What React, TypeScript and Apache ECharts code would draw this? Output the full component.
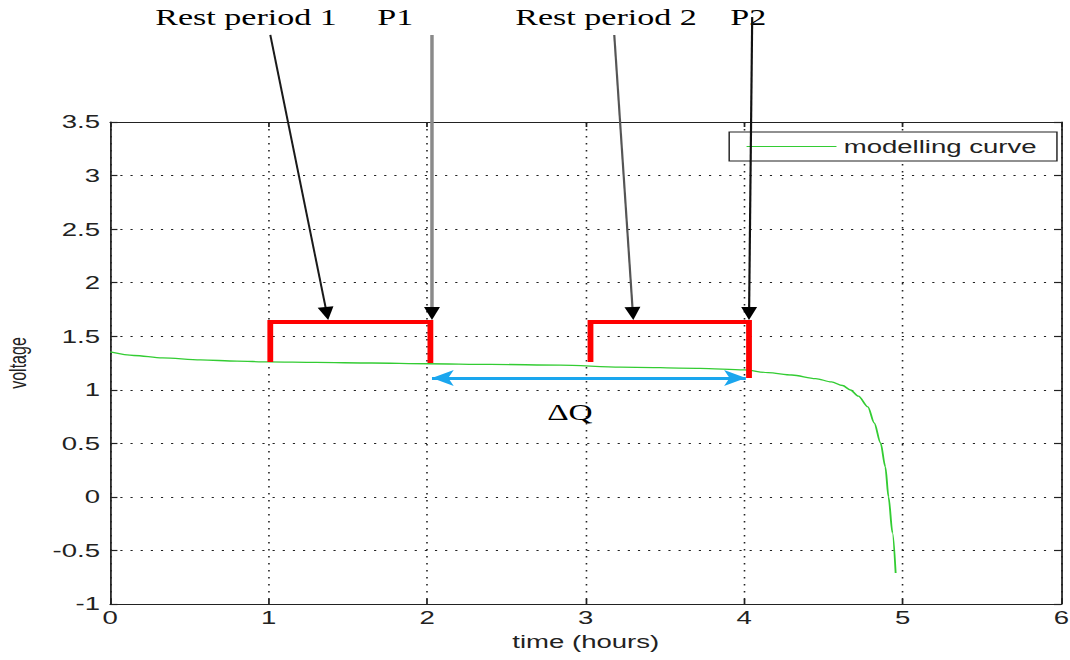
import React, { useEffect, useRef } from "react";
import * as echarts from "echarts";

// ---- data (time in hours, voltage in V) ----
const timeH = [0, 0.15, 0.33, 0.57, 0.8, 1.0, 1.3, 1.65, 2.0, 2.4, 2.84, 3.22, 3.72, 4.0, 4.15, 4.3, 4.45, 4.55, 4.62, 4.67, 4.72, 4.78, 4.82, 4.86, 4.89, 4.91, 4.935, 4.955];
const voltage = [1.353, 1.32, 1.297, 1.279, 1.268, 1.26, 1.255, 1.25, 1.243, 1.237, 1.23, 1.212, 1.2, 1.185, 1.16, 1.138, 1.105, 1.073, 1.04, 0.998, 0.94, 0.84, 0.69, 0.503, 0.28, 0.0, -0.336, -0.71];

const rest1T = [1.01, 1.01, 2.02, 2.02];
const rest1V = [1.26, 1.633, 1.633, 1.25];
const rest2T = [3.03, 3.03, 4.03, 4.03];
const rest2V = [1.26, 1.633, 1.633, 1.11];

const deltaQT = [2.03, 4.01];
const deltaQV = 1.11;

const xTicks = { min: 0, max: 6, interval: 1 };
const yTicks = { min: -1, max: 3.5, interval: 0.5 };

// annotations (data coordinates)
const labelTexts = ["Rest period 1", "P1", "Rest period 2", "P2"];
const labelT = [0.284, 1.685, 2.555, 3.912];
const labelV = 4.48;
const arrowStartT = [1.01, 2.03, 3.18, 4.05];
const arrowStartV = [4.313, 4.313, 4.313, 4.48];
const arrowTipT = [1.375, 2.03, 3.3, 4.03];
const arrowTipV = [1.652, 1.652, 1.652, 1.652];
const arrowColors = ["#1a1a1a", "#8a8a8a", "#555555", "#111111"];
const arrowWidths = [1.4, 2.4, 1.5, 1.5];
const deltaQLabel = { text: "ΔQ", t: 2.9, v: 0.79 };

const W0 = 738;
const H0 = 660;
const SX = 1070 / W0;

const zip = (a: number[], b: number[]) => a.map((x, i) => [x, b[i]]);

export default function App() {
  const ref = useRef<HTMLDivElement>(null);
  useEffect(() => {
    if (!ref.current) return;
    const chart = echarts.init(ref.current, undefined, { renderer: "svg" });
    const axisText = { fontFamily: "Liberation Sans", fontSize: 19, color: "#222" };
    const gridLine = { show: true, lineStyle: { color: "#222", type: [1.5, 5.5] as any, width: 1.1 } };
    const axisLine = { show: true, onZero: false, lineStyle: { color: "#222", width: 1.2 } };
    const tick = { show: true, inside: true, length: 5, lineStyle: { color: "#222", width: 1.2 } };
    const green = "#33cc33";
    chart.setOption({
      animation: false,
      backgroundColor: "#ffffff",
      grid: { left: 76, right: 6, top: 122, bottom: 56, containLabel: false, outerBoundsMode: "none" },
      legend: {
        data: [
          {
            name: "modelling curve",
            icon: "path://M0,0 L0.01,0 L0.01,0.01 Z M0,14 L0.01,14 L0.01,13.99 Z M0,6.4 L62,6.4 L62,7.6 L0,7.6 Z",
            itemStyle: { color: green },
          },
        ],
        right: 9,
        top: 132,
        backgroundColor: "#ffffff",
        borderColor: "#222",
        borderWidth: 1,
        borderRadius: 0,
        padding: [5, 14, 5, 12],
        itemWidth: 62,
        itemHeight: 14,
        textStyle: axisText,
        z: 20,
      },
      xAxis: [
        {
          type: "value", ...xTicks, position: "bottom",
          name: "time (hours)", nameLocation: "middle", nameGap: 22, nameTextStyle: axisText,
          axisLine, axisTick: tick,
          axisLabel: { ...axisText, margin: 4 },
          splitLine: gridLine,
        },
        {
          type: "value", ...xTicks, position: "top",
          axisLine, axisTick: tick, axisLabel: { show: false }, splitLine: { show: false },
        },
      ],
      yAxis: [
        {
          type: "value", ...yTicks, position: "left",
          name: "voltage", nameLocation: "middle", nameGap: 56, nameRotate: 90,
          nameTextStyle: { fontFamily: "Liberation Sans", fontSize: 16, color: "#222" },
          axisLine, axisTick: tick,
          axisLabel: { ...axisText, margin: 7 },
          splitLine: gridLine,
        },
        {
          type: "value", ...yTicks, position: "right",
          axisLine, axisTick: tick, axisLabel: { show: false }, splitLine: { show: false },
        },
      ],
      series: [
        {
          name: "modelling curve", type: "line", data: zip(timeH, voltage),
          symbol: "none", smooth: 0.3, smoothMonotone: "x",
          lineStyle: { color: green, width: 1.3 }, itemStyle: { color: green }, z: 3,
        },
        {
          name: "rest1", type: "line", data: zip(rest1T, rest1V), symbol: "none",
          lineStyle: { color: "#ff0000", width: 4, join: "miter" }, z: 4,
        },
        {
          name: "rest2", type: "line", data: zip(rest2T, rest2V), symbol: "none",
          lineStyle: { color: "#ff0000", width: 4, join: "miter" }, z: 4,
        },
        {
          name: "deltaQ", type: "line", data: [], symbol: "none", z: 5,
          markLine: {
            silent: true,
            symbol: ["arrow", "arrow"],
            symbolSize: [12, 15],
            label: { show: false },
            lineStyle: { color: "#1aa6ee", width: 3, type: "solid" },
            data: [[{ coord: [deltaQT[0], deltaQV] }, { coord: [deltaQT[1], deltaQV] }]],
          },
        },
      ],
    });

    const px = (t: number, v: number) =>
      chart.convertToPixel({ xAxisIndex: 0, yAxisIndex: 0 }, [t, v]) as number[];

    const graphics: any[] = [];
    labelTexts.forEach((txt, i) => {
      const p = px(labelT[i], labelV);
      graphics.push({
        type: "text", x: p[0], y: p[1], z: 100,
        style: { text: txt, fill: "#000", fontFamily: "Liberation Serif", fontSize: 23.5, align: "left", verticalAlign: "middle" },
      });
    });
    arrowStartT.forEach((_, i) => {
      const s = px(arrowStartT[i], arrowStartV[i]);
      const e = px(arrowTipT[i], arrowTipV[i]);
      const dx = e[0] - s[0];
      const dy = e[1] - s[1];
      const len = Math.hypot(dx, dy);
      const ux = dx / len;
      const uy = dy / len;
      const h = 13;
      const w = 11;
      const bx = e[0] - ux * h;
      const by = e[1] - uy * h;
      const nx = -uy;
      const ny = ux;
      graphics.push({
        type: "line", z: 100,
        shape: { x1: s[0], y1: s[1], x2: bx, y2: by },
        style: { stroke: arrowColors[i], lineWidth: arrowWidths[i] },
      });
      graphics.push({
        type: "polygon", z: 100,
        shape: { points: [[e[0], e[1]], [bx + nx * w / 2, by + ny * w / 2], [bx - nx * w / 2, by - ny * w / 2]] },
        style: { fill: "#000" },
      });
    });
    const q = px(deltaQLabel.t, deltaQLabel.v);
    graphics.push({
      type: "text", x: q[0], y: q[1], z: 100,
      style: { text: deltaQLabel.text, fill: "#000", fontFamily: "Liberation Serif", fontSize: 23, align: "center", verticalAlign: "middle" },
    });
    chart.setOption({ graphic: graphics });

    return () => chart.dispose();
  }, []);

  return (
    <div
      ref={ref}
      style={{
        position: "fixed",
        left: 0,
        top: 0,
        width: W0,
        height: H0,
        transform: `scaleX(${SX})`,
        transformOrigin: "0 0",
        background: "#fff",
      }}
    />
  );
}
